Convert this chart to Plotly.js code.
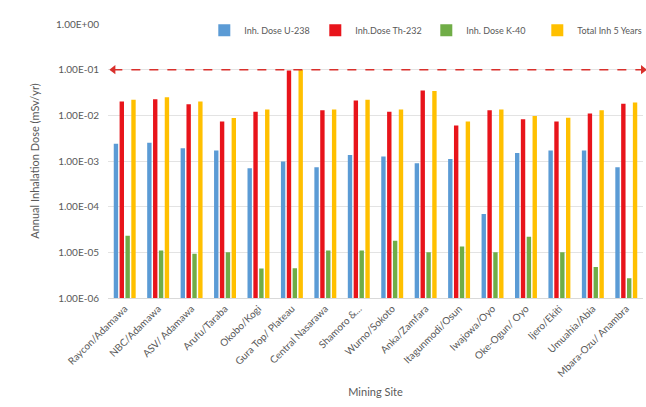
<!DOCTYPE html>
<html>
<head>
<meta charset="utf-8">
<script src="https://cdn.plot.ly/plotly-3.0.1.min.js"></script>
<style>html,body{margin:0;padding:0;background:#fff;}#chart{width:646px;height:407px;}</style>
</head>
<body>
<div id="chart"></div>
<script>
const sites = ["Raycon/Adamawa","NBC/Adamawa","ASV/ Adamawa","Arufu/Taraba","Okobo/Kogi","Gura Top/ Plateau","Central Nasarawa","Shamoro &...","Wurno/Sokoto","Anka/Zamfara","Itagunmodi/Osun","Iwajowa/Oyo","Oke-Ogun/ Oyo","Ijero/Ekiti","Umuahia/Abia","Mbara-Ozu/ Anambra"];
const doseU238 = [2.4e-3,2.5e-3,1.9e-3,1.7e-3,6.9e-4,9.7e-4,7.3e-4,1.35e-3,1.25e-3,8.9e-4,1.1e-3,6.9e-5,1.5e-3,1.7e-3,1.7e-3,7.3e-4];
const doseTh232 = [2.0e-2,2.25e-2,1.75e-2,7.3e-3,1.2e-2,9.6e-2,1.3e-2,2.1e-2,1.2e-2,3.5e-2,6.0e-3,1.3e-2,8.2e-3,7.3e-3,1.1e-2,1.8e-2];
const doseK40 = [2.3e-5,1.1e-5,9.3e-6,1.0e-5,4.4e-6,4.5e-6,1.1e-5,1.1e-5,1.8e-5,1.0e-5,1.35e-5,1.0e-5,2.2e-5,1.0e-5,4.8e-6,2.7e-6];
const total5y = [2.2e-2,2.5e-2,2.0e-2,8.7e-3,1.35e-2,1.0e-1,1.35e-2,2.2e-2,1.35e-2,3.4e-2,7.3e-3,1.35e-2,9.7e-3,8.9e-3,1.3e-2,1.9e-2];
const seriesNames = ["Inh. Dose U-238","Inh.Dose Th-232","Inh. Dose K-40","Total Inh 5 Years"];
const tickVals = [1e-6,1e-5,1e-4,1e-3,1e-2,1e-1,1];
const tickText = ["1.00E-06","1.00E-05","1.00E-04","1.00E-03","1.00E-02","1.00E-01","1.00E+00"];
const limitDose = 0.1;

const colors = ["#5B9BD5","#E8141B","#70AD47","#FFC000"];
const allSeries = [doseU238, doseTh232, doseK40, total5y];
const traces = allSeries.map((vals,i)=>({
  type:'bar', name: seriesNames[i], x: sites, y: vals,
  marker:{color: colors[i]}
}));
traces.push({
  type:'scatter', mode:'lines+markers', x:[0.01,1], y:[limitDose, limitDose],
  xaxis:'x2', showlegend:false, hoverinfo:'skip', cliponaxis:false,
  line:{color:'#D9302C', width:1.5, dash:'dash'},
  marker:{symbol:['triangle-left','triangle-right'], size:8, color:'#D9302C'}
});

const font = {family:'Lato, "Open Sans", sans-serif', color:'#595959', size:10};
const layout = {
  width:646, height:407,
  margin:{l:108, r:3, t:24, b:109, autoexpand:false},
  paper_bgcolor:'#fff', plot_bgcolor:'#fff',
  font: font,
  barmode:'group', bargap:0.3, bargroupgap:0.25,
  xaxis:{type:'category', tickangle:-45, tickfont:{size:10, color:'#595959'},
    showline:true, linecolor:'#D9D9D9', ticks:'', automargin:false,
    title:{text:'Mining Site', font:{size:11, color:'#595959'}, standoff:10}},
  xaxis2:{overlaying:'x', range:[0,1], visible:false},
  yaxis:{type:'log', range:[-6,0], tickvals:tickVals, ticktext:tickText,
    gridcolor:'#E3E3E3', zeroline:false, tickfont:{size:10, color:'#595959'}, automargin:false,
    ticks:'outside', ticklen:6, tickcolor:'rgba(0,0,0,0)',
    title:{text:'Annual Inhalation Dose (mSv/yr)', font:{size:11, color:'#595959'}, standoff:14}},
  legend:{orientation:'h', x:0.18, xanchor:'left', y:1.03, yanchor:'top',
    entrywidth:66, entrywidthmode:'pixels', itemwidth:30,
    font:{size:9, color:'#595959'}, bgcolor:'rgba(255,255,255,0)', traceorder:'normal'},
  showlegend:true
};
Plotly.newPlot('chart', traces, layout, {displayModeBar:false, staticPlot:true});
</script>
</body>
</html>
